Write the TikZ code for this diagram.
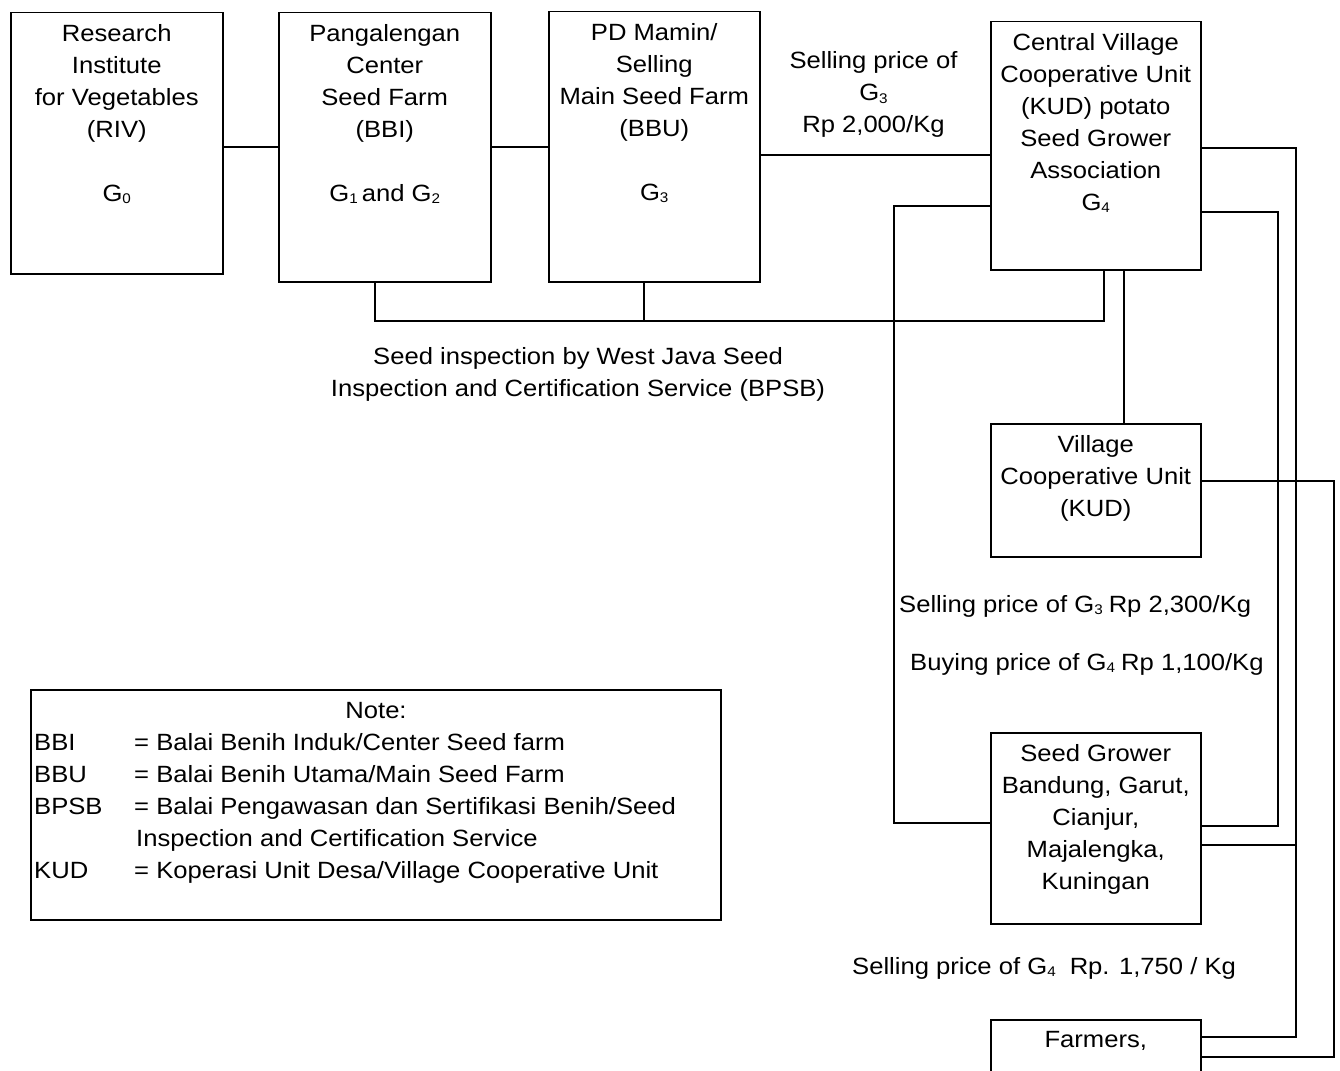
\documentclass[tikz,border=0pt]{standalone}
\usepackage{fontspec}
\setmainfont[FakeStretch=1.09]{Liberation Sans}
\newcommand\gsub[1]{\raisebox{-0.2ex}{\fontsize{14}{14}\selectfont #1}}
\tikzset{
  box/.style={draw, line width=1.5pt, inner sep=0pt, anchor=north west},
  txt/.style={inner sep=0pt, align=center, font=\fontsize{23.5}{32}\selectfont},
  ntxt/.style={inner sep=0pt, font=\fontsize{23.5}{32}\selectfont},
  conn/.style={line width=1.5pt}
}
\begin{document}
\begin{tikzpicture}[x=1pt,y=-1pt]
\useasboundingbox (0,0) rectangle (1340,1070);
\clip (0,0) rectangle (1340,1070);
\fill[white] (0,0) rectangle (1340,1070);
% boxes
\node[box, minimum width=212pt, minimum height=261pt] (riv) at (10,12) {};
\node[box, minimum width=212pt, minimum height=269pt] (bbi) at (278,12) {};
\node[box, minimum width=211pt, minimum height=270pt] (bbu) at (548,11) {};
\node[box, minimum width=210pt, minimum height=248pt] (ckud) at (990,21) {};
\node[box, minimum width=210pt, minimum height=133pt] (vkud) at (990,423) {};
\node[box, minimum width=210pt, minimum height=191pt] (sg) at (990,732) {};
\node[box, minimum width=210pt, minimum height=110pt] (farm) at (990,1019) {};
\node[box, minimum width=690pt, minimum height=230pt] (note) at (30,689) {};
% box texts
\node[txt, anchor=north] (rivt) at ([yshift=-12pt]riv.north) {Research\\Institute\\for Vegetables\\(RIV)\\[32pt]G\gsub{0}};
\node[txt, anchor=north] (bbit) at ([yshift=-12pt]bbi.north) {Pangalengan\\Center\\Seed Farm\\(BBI)\\[32pt]G\gsub{1}\hspace{4pt}and G\gsub{2}};
\node[txt, anchor=north] (bbut) at ([yshift=-12pt]bbu.north) {PD Mamin/\\Selling\\Main Seed Farm\\(BBU)\\[32pt]G\gsub{3}};
\node[txt, anchor=north] (ckudt) at ([yshift=-12pt]ckud.north) {Central Village\\Cooperative Unit\\(KUD) potato\\Seed Grower\\Association\\G\gsub{4}};
\node[txt, anchor=north] (vkudt) at ([yshift=-12pt]vkud.north) {Village\\Cooperative Unit\\(KUD)};
\node[txt, anchor=north] (sgt) at ([yshift=-12pt]sg.north) {Seed Grower\\Bandung, Garut,\\Cianjur,\\Majalengka,\\Kuningan};
\node[txt, anchor=north] (farmt) at ([yshift=-12pt]farm.north) {Farmers,};
% connectors
\draw[conn] (riv.east |- 0,147) -- (bbi.west |- 0,147);
\draw[conn] (bbi.east |- 0,147) -- (bbu.west |- 0,147);
\draw[conn] (bbu.east |- 0,155) -- (ckud.west |- 0,155);
\draw[conn] (375,0 |- bbi.south) -- (375,321) -- (1104,321) -- (1104,0 |- ckud.south);
\draw[conn] (644,0 |- bbu.south) -- (644,321);
\draw[conn] (ckud.west |- 0,206) -- (894,206) -- (894,823) -- (sg.west |- 0,823);
\draw[conn] (ckud.east |- 0,148) -- (1296,148) -- (1296,1037) -- (farm.east |- 0,1037);
\draw[conn] (sg.east |- 0,845) -- (1296,845);
\draw[conn] (ckud.east |- 0,212) -- (1278,212) -- (1278,826) -- (sg.east |- 0,826);
\draw[conn] (1124,0 |- ckud.south) -- (1124,0 |- vkud.north);
\draw[conn] (vkud.east |- 0,481) -- (1334,481) -- (1334,1057) -- (farm.east |- 0,1057);
% labels
\node[txt, anchor=north] (lbl1) at (873.5,51.5) {Selling price of\\G\gsub{3}\\Rp 2,000/Kg};
\node[txt, anchor=north] (lbl2) at (578,347) {Seed inspection by West Java Seed\\Inspection and Certification Service (BPSB)};
\node[txt, anchor=base west] (lbl3) at (899,612.5) {Selling price of G\gsub{3}\hspace{6pt}Rp 2,300/Kg};
\node[txt, anchor=base west] (lbl4) at (910,670.5) {Buying price of G\gsub{4}\hspace{6pt}Rp 1,100/Kg};
\node[txt, anchor=base west] (lbl5) at (852,974.5) {Selling price of G\gsub{4}\hspace{14pt}Rp. 1,750 / Kg};
% note
\node[ntxt, anchor=base] (n0) at (376,718.5) {Note:};
\node[ntxt, anchor=base west] (n1a) at (34,750.5) {BBI};
\node[ntxt, anchor=base west] (n1b) at (134,750.5) {= Balai Benih Induk/Center Seed farm};
\node[ntxt, anchor=base west] (n2a) at (34,782.5) {BBU};
\node[ntxt, anchor=base west] (n2b) at (134,782.5) {= Balai Benih Utama/Main Seed Farm};
\node[ntxt, anchor=base west] (n3a) at (34,814.5) {BPSB};
\node[ntxt, anchor=base west] (n3b) at (134,814.5) {= Balai Pengawasan dan Sertifikasi Benih/Seed};
\node[ntxt, anchor=base west] (n4b) at (136,846.5) {Inspection and Certification Service};
\node[ntxt, anchor=base west] (n5a) at (34,878.5) {KUD};
\node[ntxt, anchor=base west] (n5b) at (134,878.5) {= Koperasi Unit Desa/Village Cooperative Unit};
\end{tikzpicture}
\end{document}
